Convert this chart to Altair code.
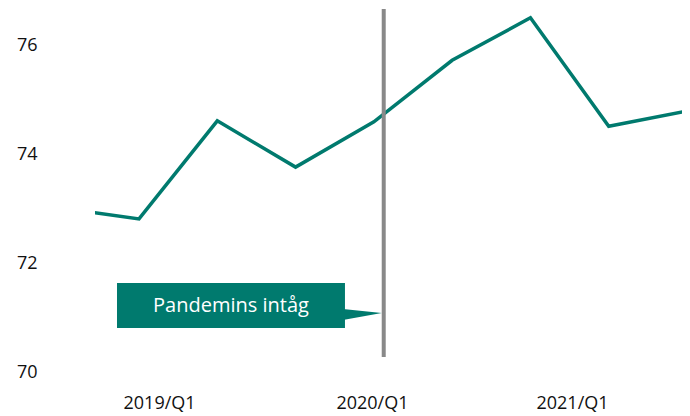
import altair as alt
import pandas as pd

# ---- data ----
quarter_index = [0, 1, 2, 3, 4, 5, 6, 7, 8]
share = [73.01, 72.81, 74.61, 73.76, 74.59, 75.72, 76.50, 74.51, 74.79]

x_tick_values = [1.256, 3.976, 6.531]
x_tick_labels = ["2019/Q1", "2020/Q1", "2021/Q1"]
y_tick_values = [70, 72, 74, 76]

event_position = [4.126]
event_range = [70.275, 76.66]
callout_text = ["Pandemins intåg"]
callout_x = [0.719, 3.631]
callout_y = [70.807, 71.633]
pointer_y = [71.083]

TEAL = "#007A6E"
GRAY = "#898989"
FONT = "Open Sans"

df = pd.DataFrame({"t": quarter_index, "v": share})
event_df = pd.DataFrame({"t": event_position, "v": [event_range[0]], "v2": [event_range[1]]})
box_df = pd.DataFrame({"t": [callout_x[0]], "t2": [callout_x[1]],
                       "v": [callout_y[0]], "v2": [callout_y[1]]})
text_df = pd.DataFrame({"t": [(callout_x[0] + callout_x[1]) / 2],
                        "v": [(callout_y[0] + callout_y[1]) / 2],
                        "label": callout_text})
ptr_df = pd.DataFrame({"t": event_position, "v": pointer_y})

label_expr = ""
for val, lab in zip(x_tick_values, x_tick_labels):
    label_expr += f"abs(datum.value - {val}) < 0.01 ? '{lab}' : "
label_expr += "''"

x_scale = alt.Scale(domain=[0.438, 7.936], nice=False, zero=False)
y_scale = alt.Scale(domain=[70, 76.68], nice=False, zero=False)

x_axis = alt.Axis(values=x_tick_values, labelExpr=label_expr, title=None, grid=False,
                  domain=False, ticks=False, labelFont=FONT, labelFontSize=18,
                  labelColor="#111111", labelPadding=22, labelOverlap=False, labelFlush=False)
y_axis = alt.Axis(values=y_tick_values, title=None, grid=False, domain=False, ticks=False,
                  labelFont=FONT, labelFontSize=18, labelColor="#111111", labelPadding=58,
                  labelFlush=False, labelOverlap=False)

X = alt.X("t:Q", scale=x_scale, axis=x_axis, title=None)
Y = alt.Y("v:Q", scale=y_scale, axis=y_axis, title=None)

line = alt.Chart(df).mark_line(color=TEAL, strokeWidth=3.5, clip=True).encode(x=X, y=Y)

rule = alt.Chart(event_df).mark_rule(color=GRAY, strokeWidth=4).encode(
    x=X, y=Y, y2="v2:Q",
)

box = alt.Chart(box_df).mark_rect(color=TEAL).encode(
    x=X, x2="t2:Q", y=Y, y2="v2:Q",
)

pointer = alt.Chart(ptr_df).mark_point(
    shape="M -1.02 -0.1 L -0.05 0 L -1.02 0.175 Z",
    size=6400, filled=True, color=TEAL, opacity=1, strokeWidth=0,
).encode(x=X, y=Y)

text = alt.Chart(text_df).mark_text(
    font=FONT, fontSize=20, color="white", align="center", baseline="middle"
).encode(x=X, y=Y, text="label:N")

chart = alt.layer(line, rule, box, pointer, text).properties(
    width=587, height=364,
    autosize="none",
    padding={"left": 87, "top": 0, "right": 0, "bottom": 44},
).configure_view(stroke=None)

chart.save("out.html", embed_options={"renderer": "svg", "actions": False})
